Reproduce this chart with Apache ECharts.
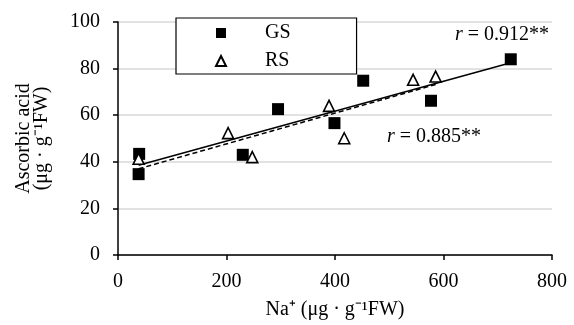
<!DOCTYPE html>
<html><head><meta charset="utf-8">
<script src="https://cdn.jsdelivr.net/npm/echarts@6/dist/echarts.min.js"></script>
<style>html,body{margin:0;padding:0;background:#fff}#c{width:574px;height:325px}</style>
</head><body><div id="c"></div>
<script>
// Data
const gsNa = [39, 38, 230, 295, 399, 452, 577, 724];
const gsAsA = [43.4, 34.7, 43, 62.6, 56.6, 74.8, 66.2, 84];
const rsNa = [38, 203, 247.5, 389, 417, 544, 585.5];
const rsAsA = [41.3, 52.3, 42, 64, 50.1, 75.2, 76.6];
const xTicks = [0, 200, 400, 600, 800];
const yTicks = [0, 20, 40, 60, 80, 100];
const rGS = '0.912**';
const rRS = '0.885**';

function fit(xs, ys) {
  const n = xs.length;
  const mx = xs.reduce((a, b) => a + b, 0) / n;
  const my = ys.reduce((a, b) => a + b, 0) / n;
  let sxy = 0, sxx = 0;
  for (let i = 0; i < n; i++) { sxy += (xs[i] - mx) * (ys[i] - my); sxx += (xs[i] - mx) ** 2; }
  const b = sxy / sxx, a = my - b * mx;
  const x0 = Math.min(...xs), x1 = Math.max(...xs);
  return [[x0, a + b * x0], [x1, a + b * x1]];
}
const pairs = (xs, ys) => xs.map((x, i) => [x, ys[i]]);

const font = '"Liberation Serif", "Times New Roman", serif';
const FS = 20;
const chart = echarts.init(document.getElementById('c'));
chart.setOption({
  animation: false,
  textStyle: { fontFamily: font, color: '#000' },
  grid: { left: 118, right: 22, top: 22, bottom: 70 },
  xAxis: {
    type: 'value', min: xTicks[0], max: xTicks[xTicks.length - 1], interval: 200,
    name: 'Na⁺ (μg · g⁻¹FW)', nameLocation: 'middle', nameGap: 45,
    nameTextStyle: { fontFamily: font, fontSize: FS, color: '#000' },
    axisLine: { lineStyle: { color: '#000', width: 1.5 } },
    axisTick: { show: true, length: 5, lineStyle: { color: '#000', width: 1.5 } },
    axisLabel: { fontFamily: font, fontSize: FS, color: '#000', margin: 17 },
    splitLine: { show: false }
  },
  yAxis: {
    type: 'value', min: yTicks[0], max: yTicks[yTicks.length - 1], interval: 20,
    name: 'Ascorbic acid\n(μg · g⁻¹FW)', nameLocation: 'middle', nameGap: 67, nameRotate: 90,
    nameTextStyle: { fontFamily: font, fontSize: FS, color: '#000', lineHeight: 18 },
    axisLine: { show: true, lineStyle: { color: '#000', width: 1.5 } },
    axisTick: { show: true, length: 5, lineStyle: { color: '#000', width: 1.5 } },
    axisLabel: { fontFamily: font, fontSize: FS, color: '#000', margin: 18 },
    splitLine: { show: true, lineStyle: { color: '#d9d9d9', width: 1.5 } }
  },
  legend: {
    data: ['GS', 'RS'], orient: 'vertical', left: 176, top: 18,
    backgroundColor: '#fff', borderColor: '#000', borderWidth: 1.2,
    padding: [5, 66, 3, 39], itemGap: 8, itemWidth: 10, itemHeight: 10,
    textStyle: { fontFamily: font, fontSize: FS, color: '#000', padding: [0, 0, 0, 34] }
  },
  series: [
    { name: 'GS fit', type: 'line', data: fit(gsNa, gsAsA), symbol: 'none', silent: true,
      lineStyle: { color: '#000', width: 1.5 }, z: 1 },
    { name: 'RS fit', type: 'line', data: fit(rsNa, rsAsA), symbol: 'none', silent: true,
      lineStyle: { color: '#000', width: 1.5, type: [5, 3] }, z: 1 },
    { name: 'GS', type: 'scatter', data: pairs(gsNa, gsAsA), symbol: 'rect', symbolSize: 12,
      itemStyle: { color: '#000', opacity: 1 }, z: 3 },
    { name: 'RS', type: 'scatter', data: pairs(rsNa, rsAsA), symbol: 'triangle', symbolSize: [11, 11],
      itemStyle: { color: '#fff', borderColor: '#000', borderWidth: 1.6, opacity: 1 }, z: 4 }
  ],
  graphic: [
    { type: 'text', left: 455, top: 25, z: 10,
      style: { text: '{i|r} = ' + rGS, rich: { i: { fontStyle: 'italic', fontFamily: font, fontSize: FS } },
        fontFamily: font, fontSize: FS, fill: '#000' } },
    { type: 'text', left: 387, top: 127, z: 10,
      style: { text: '{i|r} = ' + rRS, rich: { i: { fontStyle: 'italic', fontFamily: font, fontSize: FS } },
        fontFamily: font, fontSize: FS, fill: '#000' } }
  ]
});
</script></body></html>
